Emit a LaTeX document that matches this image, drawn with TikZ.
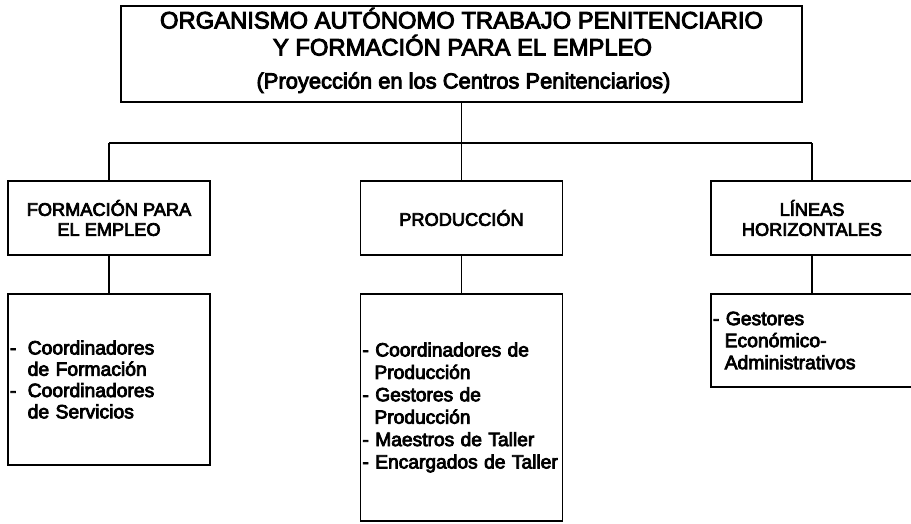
\documentclass[tikz,border=0pt]{standalone}
\usepackage{fontspec}
\setmainfont[FakeBold=4]{Liberation Sans}
\begin{document}
\begin{tikzpicture}[x=1pt,y=-1pt, line width=1.35pt,
  box/.style={draw, rectangle, inner sep=0pt, minimum width=202pt},
  lbl/.style={box, align=center, minimum height=74pt, font=\fontsize{18.2}{20}\selectfont},
  lst/.style={box, align=left, text width=198pt, inner xsep=2pt, inner ysep=0pt},
  ttl/.style={anchor=base, inner sep=0pt}]
\useasboundingbox (0,0) rectangle (911,523);
\fill[white] (0,0) rectangle (911,523);
% top box
\node[draw, rectangle, inner sep=0pt, minimum width=681pt, minimum height=96pt] (top) at (461.5,54) {};
\node[ttl, font=\fontsize{23.8}{26}\selectfont] (t1) at (461.5,28.5) {ORGANISMO AUTÓNOMO TRABAJO PENITENCIARIO};
\node[ttl, font=\fontsize{23.8}{26}\selectfont] (t2) at (462.5,55.5) {Y FORMACIÓN PARA EL EMPLEO};
\node[ttl, font=\fontsize{21.9}{24}\selectfont] (t3) at (463.5,88.5) {(Proyección en los Centros Penitenciarios)};
% junctions
\coordinate (jt) at (461.5,143);
\coordinate (jl) at (109,143);
\coordinate (jr) at (812,143);
% second row
\node[lbl] (b1) at (109,218) {FORMACIÓN PARA\\EL EMPLEO};
\node[lbl] (b2) at (461.5,218) {PRODUCCIÓN};
\node[lbl] (b3) at (812,218) {LÍNEAS\\HORIZONTALES};
% third row
\node[lst, minimum height=171pt, font=\fontsize{19.3}{21.3}\selectfont] (c1) at (109,379.5)
  {-\hspace{11.3pt}Coordinadores\\\hspace*{17.7pt}de Formación\\-\hspace{11.3pt}Coordinadores\\\hspace*{17.7pt}de Servicios};
\node[lst, minimum height=227pt, font=\fontsize{19.2}{22.4}\selectfont] (c2) at (461.5,407.5)
  {- Coordinadores de\\\hspace*{12pt}Producción\\- Gestores de\\\hspace*{12pt}Producción\\- Maestros de Taller\\- Encargados de Taller};
\node[lst, minimum height=93pt, font=\fontsize{19.3}{22}\selectfont] (c3) at (812,340.5)
  {- Gestores\\\hspace*{11.7pt}Económico-\\\hspace*{11.7pt}Administrativos};
% connectors
\draw (top.south) -- (jt);
\draw (jl) -- (jr);
\draw (jl) -- (b1.north);
\draw (jt) -- (b2.north);
\draw (jr) -- (b3.north);
\draw (b1.south) -- (c1.north);
\draw (b2.south) -- (c2.north);
\draw (b3.south) -- (c3.north);
\end{tikzpicture}
\end{document}
